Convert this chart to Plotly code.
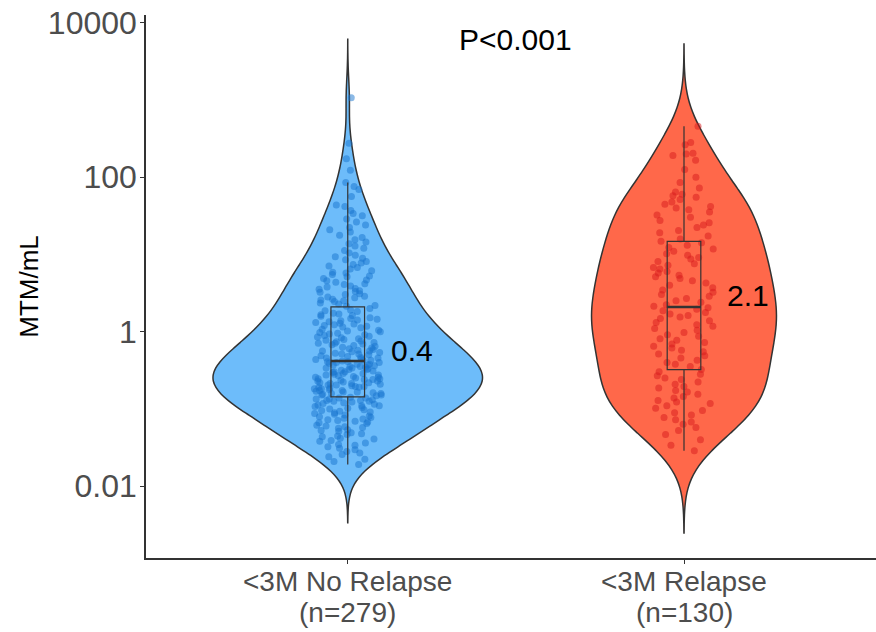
import numpy as np
import plotly.graph_objects as go

# log10(MTM/mL) per patient
no_relapse_log10 = [
    -1.72, -1.68, -1.65, -1.62,
    -1.59, -1.57, -1.55, -1.53, -1.51,
    -1.49, -1.47, -1.46, -1.44, -1.42, -1.41,
    -1.39, -1.38, -1.36, -1.35, -1.33, -1.32, -1.31,
    -1.29, -1.28, -1.27, -1.25, -1.24, -1.23, -1.22, -1.21,
    -1.19, -1.18, -1.17, -1.16, -1.15, -1.14, -1.13, -1.12, -1.11,
    -1.10, -1.09, -1.08, -1.07, -1.06, -1.05, -1.04, -1.03, -1.02, -1.01,
    -1.00, -0.99, -0.98, -0.97, -0.96, -0.96, -0.95, -0.94, -0.93, -0.92, -0.91, -0.90,
    -0.90, -0.89, -0.89, -0.88, -0.87, -0.87, -0.86, -0.86, -0.85,
    -0.83, -0.82, -0.82, -0.81, -0.80, -0.80, -0.79, -0.78, -0.78, -0.77, -0.76,
    -0.76, -0.75, -0.74, -0.74, -0.73, -0.72, -0.72, -0.71, -0.71, -0.70,
    -0.69, -0.69, -0.68, -0.67, -0.67, -0.66, -0.66, -0.65, -0.64, -0.64, -0.63,
    -0.62, -0.62, -0.61, -0.61, -0.60,
    -0.59, -0.59, -0.58, -0.57, -0.56, -0.56, -0.55, -0.54, -0.54, -0.53, -0.52,
    -0.52, -0.51, -0.50,
    -0.49, -0.49, -0.48, -0.47, -0.47, -0.46, -0.45, -0.45, -0.44, -0.43, -0.43,
    -0.42, -0.42, -0.41, -0.40, -0.40, -0.39, -0.39, -0.38,
    -0.37, -0.37, -0.36, -0.35, -0.34, -0.34, -0.33, -0.32, -0.31, -0.30,
    -0.29, -0.29, -0.28, -0.27, -0.26, -0.25, -0.25, -0.24, -0.23, -0.22, -0.21, -0.20,
    -0.19, -0.18, -0.17, -0.16, -0.15, -0.15, -0.14, -0.13, -0.12, -0.11, -0.10,
    -0.09, -0.08, -0.07, -0.06, -0.05, -0.04, -0.03, -0.02, -0.01, 0.00,
    0.01, 0.02, 0.03, 0.05, 0.06, 0.07, 0.08, 0.09, 0.10,
    0.11, 0.12, 0.13, 0.14, 0.15, 0.16, 0.17, 0.18, 0.20,
    0.21, 0.22, 0.23, 0.24, 0.26, 0.27, 0.28, 0.30,
    0.33, 0.34, 0.36, 0.37, 0.39,
    0.40, 0.41, 0.42, 0.44, 0.45, 0.46, 0.48, 0.49,
    0.51, 0.52, 0.53, 0.55, 0.56, 0.58, 0.59,
    0.61, 0.62, 0.64, 0.66, 0.67, 0.69,
    0.71, 0.72, 0.74, 0.76, 0.77, 0.79,
    0.81, 0.83, 0.85, 0.87, 0.89,
    0.91, 0.93, 0.95, 0.97, 0.99,
    1.02, 1.05, 1.08, 1.11, 1.14, 1.16, 1.19,
    1.22, 1.25, 1.29, 1.32, 1.35, 1.38,
    1.42, 1.46, 1.50, 1.53, 1.57,
    1.62, 1.64, 1.75,
    1.84, 1.88, 1.93,
    2.09, 2.24, 2.44, 3.03,
]

relapse_log10 = [
    -1.54, -1.47, -1.40, -1.33,
    -1.28, -1.24, -1.20, -1.17, -1.14, -1.11,
    -1.08, -1.05, -1.02, -0.99, -0.96, -0.93, -0.91,
    -0.89, -0.86, -0.84, -0.81, -0.78, -0.76, -0.73, -0.71,
    -0.68, -0.65, -0.62, -0.60, -0.57, -0.55, -0.52, -0.49,
    -0.45, -0.42, -0.40, -0.37, -0.34, -0.31, -0.29, -0.26, -0.24, -0.21,
    -0.19, -0.16, -0.14, -0.11, -0.09, -0.06, -0.04, -0.01,
    0.02, 0.04, 0.07, 0.09, 0.12, 0.14, 0.17, 0.19,
    0.21, 0.23, 0.25, 0.27, 0.29, 0.31,
    0.33, 0.35, 0.38, 0.40, 0.43, 0.46, 0.48,
    0.51, 0.54, 0.57, 0.60, 0.63, 0.66, 0.69,
    0.71, 0.73, 0.76, 0.78, 0.81, 0.83, 0.86, 0.88,
    0.91, 0.94, 0.96, 0.99, 1.01, 1.04, 1.07, 1.09, 1.12, 1.15,
    1.17, 1.20, 1.24, 1.28, 1.31, 1.35, 1.38,
    1.41, 1.44, 1.48, 1.51, 1.55, 1.58,
    1.60, 1.62, 1.65, 1.68, 1.71, 1.74, 1.76, 1.78,
    1.81, 1.86, 1.93,
    2.00, 2.10,
    2.22, 2.28, 2.30, 2.31,
    2.42, 2.45, 2.66,
]

group_names = ["&lt;3M No Relapse", "&lt;3M Relapse"]
group_counts = ["(n=279)", "(n=130)"]
y_tick_values = [-2, 0, 2, 4]
y_tick_labels = ["0.01", "1", "100", "10000"]
p_value_text = "P&lt;0.001"

groups = [
    dict(vals=np.array(no_relapse_log10), pos=0, fill="#6DBCFA",
         point="rgba(24,116,205,0.5)", vwidth=0.80),
    dict(vals=np.array(relapse_log10), pos=1, fill="#FF684A",
         point="rgba(215,25,28,0.5)", vwidth=0.55),
]

DARK = "#333333"
GREY = "#4D4D4D"
FONT = "Liberation Sans, Arial, sans-serif"


def nrd0(v):
    """Silverman's rule of thumb as used by R's density()."""
    q75, q25 = np.percentile(v, [75, 25])
    lo = min(np.std(v, ddof=1), (q75 - q25) / 1.34)
    return 0.9 * lo * len(v) ** -0.2


fig = go.Figure()
shapes = []
annotations = []

for i, g in enumerate(groups):
    v = g["vals"]
    xs = [g["pos"]] * len(v)
    bw = nrd0(v)

    # density outline, untrimmed (extends 3 bandwidths past the data)
    fig.add_trace(go.Violin(
        x=xs, y=v, width=g["vwidth"], scalegroup=f"g{i}",
        bandwidth=bw, spanmode="manual",
        span=[v.min() - 3 * bw, v.max() + 3 * bw],
        fillcolor=g["fill"], opacity=1,
        line=dict(color=DARK, width=1.5),
        points=False, box_visible=False, meanline_visible=False,
        hoverinfo="skip", showlegend=False,
    ))

    # jittered individual observations
    fig.add_trace(go.Box(
        x=xs, y=v, width=0.2, boxpoints="all", jitter=1, pointpos=0,
        fillcolor="rgba(0,0,0,0)",
        line=dict(color="rgba(0,0,0,0)", width=0), whiskerwidth=0,
        marker=dict(color=g["point"], size=7, line=dict(width=0)),
        hoverinfo="skip", showlegend=False,
    ))

    # narrow box with whiskers (Tukey fences)
    fig.add_trace(go.Box(
        x=xs, y=v, width=0.1, boxpoints="outliers", whiskerwidth=0,
        fillcolor="rgba(0,0,0,0)", line=dict(color=DARK, width=1.2),
        marker=dict(opacity=0, size=1),
        hoverinfo="skip", showlegend=False,
    ))

    med = float(np.median(v))
    shapes.append(dict(type="line", xref="x", yref="y",
                       x0=g["pos"] - 0.05, x1=g["pos"] + 0.05, y0=med, y1=med,
                       line=dict(color=DARK, width=2.4)))
    annotations.append(dict(x=g["pos"] + 0.122, y=med, xref="x", yref="y",
                            text=f"{10 ** med:.1f}", showarrow=False,
                            xanchor="left", yanchor="middle", yshift=11,
                            font=dict(size=30, color="black", family=FONT)))

    # two-line category label under the axis
    for text, shift in ((group_names[i], -23), (group_counts[i], -54)):
        annotations.append(dict(x=g["pos"], y=0, xref="x", yref="paper",
                                text=text, showarrow=False,
                                xanchor="center", yanchor="middle", yshift=shift,
                                font=dict(size=28, color=GREY, family=FONT)))

annotations.append(dict(x=0.5, y=3.78, xref="x", yref="y", text=p_value_text,
                        showarrow=False, xanchor="center", yanchor="middle",
                        font=dict(size=30, color="black", family=FONT)))

fig.update_layout(
    width=876, height=632, autosize=False,
    margin=dict(l=146, r=0, t=15, b=74, pad=0),
    paper_bgcolor="white", plot_bgcolor="white",
    violinmode="overlay", boxmode="overlay",
    showlegend=False, hovermode=False,
    font=dict(family=FONT),
    shapes=shapes, annotations=annotations,
    xaxis=dict(
        range=[-0.6, 1.571], tickmode="array", tickvals=[0, 1],
        ticktext=["", ""], showgrid=False, zeroline=False,
        showline=True, linecolor=DARK, linewidth=1.5,
        ticks="outside", ticklen=4, tickcolor=DARK, tickwidth=1.2,
        automargin=False,
    ),
    yaxis=dict(
        range=[-2.93, 4.10], tickmode="array", tickvals=y_tick_values,
        ticktext=y_tick_labels, showgrid=False, zeroline=False,
        showline=True, linecolor=DARK, linewidth=1.5,
        ticks="outside", ticklen=4, tickcolor=DARK, tickwidth=1.2,
        tickfont=dict(size=32, color=GREY, family=FONT),
        ticklabelstandoff=-3,
        automargin=False,
        title=dict(text="MTM/mL", standoff=2,
                   font=dict(size=26, color="black", family=FONT)),
    ),
)

fig.write_html("out.html")
